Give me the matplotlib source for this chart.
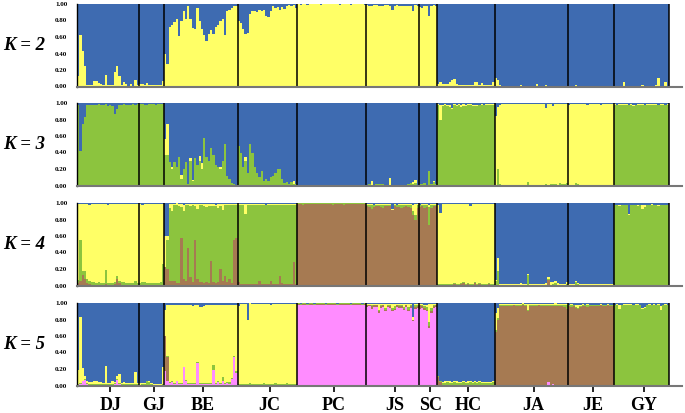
import numpy as np
import matplotlib
matplotlib.use("Agg")
from matplotlib import pyplot as plt

# populations and number of individuals in each
groups = ["DJ", "GJ", "BE", "JC", "PC", "JS", "SC", "HC", "JA", "JE", "GY"]
sizes = [27, 11, 32, 26, 30, 23, 8, 25, 32, 20, 24]

blue = "#3E6BB1"
yellow = "#FFFF66"
green = "#8CC43E"
brown = "#A67A52"
pink = "#FF8CFF"

#K = 2 : yellow from the bottom, blue fills the rest
k2_yellow = (
    [0.13, 0.63, 0.43, 0.25, 0.02, 0.02, 0.02, 0.07, 0.07, 0.04, 0.03, 0.02, 0.14, 0.02,
     0.02, 0.02, 0.17, 0.25, 0.13, 0.02, 0.05, 0.03, 0.01, 0.03, 0.01, 0.08, 0.02]  # DJ
    + [0.03, 0.03, 0.02, 0.04, 0.02, 0.02, 0.02, 0.02, 0.02, 0.02, 0.07]  # GJ
    + [0.40, 0.27, 0.72, 0.75, 0.78, 0.82, 0.61, 0.80, 0.92, 0.82, 0.97, 0.82, 0.71, 0.70,
       0.95, 0.80, 0.70, 0.63, 0.55, 0.64, 0.68, 0.64, 0.72, 0.74, 0.80, 0.82, 0.62, 0.91,
       0.93, 0.95, 0.97, 0.97]  # BE
    + [0.80, 0.77, 0.70, 0.64, 0.65, 0.88, 0.92, 0.91, 0.90, 0.93, 0.91, 0.93, 0.86, 0.84,
       0.91, 0.97, 0.95, 0.96, 0.93, 0.96, 0.94, 0.98, 0.99, 0.97, 0.99, 0.95]  # JC
    + [1.00, 0.99, 1.00, 1.00, 0.99, 1.00, 1.00, 1.00, 1.00, 1.00, 0.99, 1.00, 1.00, 1.00,
       1.00, 1.00, 1.00, 1.00, 0.99, 1.00, 1.00, 1.00, 1.00, 0.99, 1.00, 1.00, 1.00, 1.00,
       1.00, 0.99]  # PC
    + [0.99, 0.97, 0.98, 0.99, 0.99, 0.98, 0.97, 0.98, 0.99, 0.99, 0.98, 0.93, 0.98, 0.99,
       0.97, 0.98, 0.97, 0.98, 0.97, 0.98, 0.91, 0.99, 0.97]  # JS
    + [0.96, 0.95, 0.98, 0.97, 0.85, 0.97, 0.99, 0.98]  # SC
    + [0.03, 0.05, 0.03, 0.03, 0.03, 0.06, 0.08, 0.09, 0.03, 0.02, 0.02, 0.02, 0.02, 0.02,
       0.02, 0.02, 0.06, 0.06, 0.02, 0.04, 0.02, 0.02, 0.02, 0.02, 0.05]  # HC
    + [0.10, 0.08, 0.02, 0.01, 0.01, 0.01, 0.01, 0.01, 0.01, 0.01, 0.01, 0.02, 0.01, 0.01,
       0.01, 0.01, 0.01, 0.01, 0.03, 0.01, 0.01, 0.01, 0.02, 0.01, 0.01, 0.01, 0.01, 0.01,
       0.01, 0.01, 0.01, 0.01]  # JA
    + [0.01, 0.01, 0.01, 0.02, 0.01, 0.01, 0.01, 0.01, 0.01, 0.01, 0.01, 0.01, 0.01, 0.01,
       0.01, 0.01, 0.01, 0.01, 0.01, 0.01]  # JE
    + [0.01, 0.01, 0.01, 0.01, 0.06, 0.01, 0.01, 0.01, 0.01, 0.01, 0.01, 0.01, 0.02, 0.01,
       0.01, 0.01, 0.01, 0.01, 0.02, 0.10, 0.01, 0.01, 0.06, 0.01]  # GY
)

#K = 3 : green, yellow, then blue on top
k3_green = (
    [0.97, 0.42, 0.75, 0.83, 0.97, 0.98, 0.98, 0.97, 0.98, 0.99, 0.97, 0.98, 0.99, 0.96,
     0.97, 0.96, 0.87, 0.93, 0.97, 0.98, 0.99, 0.98, 0.97, 0.98, 0.99, 0.98, 0.99]  # DJ
    + [0.99, 0.99, 0.98, 0.97, 0.99, 0.99, 0.99, 0.98, 0.99, 0.99, 0.99]  # GJ
    + [0.37, 0.37, 0.28, 0.20, 0.28, 0.22, 0.35, 0.08, 0.20, 0.28, 0.02, 0.30, 0.05, 0.33,
       0.25, 0.30, 0.20, 0.58, 0.35, 0.30, 0.45, 0.37, 0.25, 0.22, 0.20, 0.30, 0.50, 0.12,
       0.08, 0.03, 0.02, 0.01]  # BE
    + [0.48, 0.40, 0.22, 0.30, 0.15, 0.50, 0.40, 0.22, 0.15, 0.10, 0.18, 0.06, 0.08, 0.05,
       0.10, 0.12, 0.15, 0.20, 0.20, 0.08, 0.03, 0.04, 0.02, 0.04, 0.02, 0.02]  # JC
    + [0.01, 0, 0, 0, 0, 0, 0, 0.01, 0, 0, 0, 0, 0, 0, 0, 0, 0.01, 0, 0, 0,
       0.01, 0, 0, 0, 0, 0, 0, 0, 0, 0]  # PC
    + [0.01, 0.02, 0.01, 0.01, 0.02, 0.02, 0.02, 0.02, 0.01, 0.01, 0.01, 0.01, 0.01, 0.01,
       0.01, 0.01, 0.01, 0.01, 0.02, 0.03, 0.02, 0.03, 0.01]  # JS
    + [0.02, 0.02, 0.03, 0.01, 0.18, 0.02, 0.04, 0.02]  # SC
    + [0.97, 0.80, 0.96, 0.97, 0.96, 0.95, 0.93, 0.97, 0.96, 0.97, 0.95, 0.96, 0.96, 0.97,
       0.97, 0.96, 0.96, 0.96, 0.97, 0.97, 0.97, 0.98, 0.98, 0.98, 0.97]  # HC
    + [0.01, 0.20, 0.02, 0.01, 0.01, 0.01, 0.01, 0.01, 0.01, 0.01, 0.01, 0.01, 0.01, 0.01,
       0.04, 0.01, 0.01, 0.01, 0.01, 0.01, 0.01, 0.01, 0.02, 0.01, 0.02, 0.02, 0.02, 0.01,
       0.03, 0.02, 0.02, 0.03]  # JA
    + [0.01, 0.01, 0.01, 0.03, 0.02, 0.01, 0.01, 0.01, 0.01, 0.01, 0.01, 0.01, 0.01, 0.01,
       0.01, 0.01, 0.01, 0.01, 0.01, 0.01]  # JE
    + [0.98, 0.97, 0.98, 0.98, 0.97, 0.98, 0.97, 0.98, 0.96, 0.97, 0.98, 0.98, 0.98, 0.97,
       0.98, 0.98, 0.97, 0.98, 0.98, 0.97, 0.98, 0.98, 0.97, 0.98]  # GY
)
k3_yellow = (
    [0] * 27  # DJ
    + [0] * 11  # GJ
    + [0.19, 0.38, 0, 0.02, 0, 0, 0, 0.05, 0, 0, 0, 0.03, 0.02, 0, 0, 0.06, 0.07, 0, 0, 0,
       0, 0, 0, 0, 0.03, 0, 0, 0, 0, 0, 0, 0]  # BE
    + [0, 0, 0, 0.04, 0, 0, 0, 0, 0, 0, 0, 0, 0, 0, 0, 0, 0, 0, 0, 0,
       0, 0, 0, 0, 0.03, 0]  # JC
    + [0] * 30  # PC
    + [0, 0, 0.04, 0, 0, 0, 0, 0, 0, 0, 0.08, 0, 0, 0, 0, 0, 0, 0, 0, 0,
       0.02, 0.04, 0]  # JS
    + [0, 0, 0, 0, 0, 0, 0.02, 0]  # SC
    + [0.02, 0.17, 0.02, 0.02, 0.02, 0.02, 0.01, 0.02, 0.02, 0.02, 0.03, 0.03, 0.02, 0.02,
       0.02, 0.02, 0.02, 0.02, 0.01, 0.02, 0.01, 0.01, 0.01, 0.01, 0.02]  # HC
    + [0.83, 0.75, 0.96, 0.98, 0.98, 0.98, 0.98, 0.98, 0.98, 0.98, 0.98, 0.98, 0.98, 0.98,
       0.95, 0.98, 0.98, 0.98, 0.98, 0.98, 0.98, 0.98, 0.92, 0.98, 0.97, 0.94, 0.97, 0.98,
       0.96, 0.97, 0.97, 0.96]  # JA
    + [0.97, 0.98, 0.98, 0.96, 0.97, 0.98, 0.98, 0.98, 0.97, 0.98, 0.98, 0.98, 0.98, 0.98,
       0.97, 0.98, 0.98, 0.98, 0.98, 0.98]  # JE
    + [0.01, 0.01, 0.01, 0.01, 0.02, 0.01, 0.01, 0.01, 0.02, 0.01, 0.01, 0.01, 0.01, 0.01,
       0.01, 0.01, 0.02, 0.01, 0.01, 0.01, 0.01, 0.01, 0.01, 0.01]  # GY
)

#K = 4 : brown, green, yellow, then blue on top
k4_brown = (
    [0.03, 0.05, 0.13, 0.08, 0.03, 0.02, 0.01, 0.01, 0.01, 0.01, 0.01, 0.01, 0.02, 0.01,
     0.01, 0.01, 0.02, 0.08, 0.03, 0.01, 0.01, 0.01, 0.01, 0.01, 0.01, 0.01, 0.01]  # DJ
    + [0.01, 0.01, 0.01, 0.01, 0.01, 0.01, 0.01, 0.01, 0.01, 0.01, 0.01]  # GJ
    + [0.22, 0.20, 0.06, 0.05, 0.05, 0.03, 0.03, 0.58, 0.08, 0.05, 0.45, 0.10, 0.04, 0.55,
       0.08, 0.04, 0.04, 0.03, 0.04, 0.03, 0.30, 0.04, 0.03, 0.04, 0.20, 0.05, 0.12, 0.04,
       0.08, 0.03, 0.55, 0.57]  # BE
    + [0.04, 0.02, 0.02, 0.02, 0.02, 0.02, 0.02, 0.02, 0.02, 0.06, 0.02, 0.02, 0.02, 0.02,
       0.05, 0.02, 0.02, 0.02, 0.12, 0.03, 0.02, 0.02, 0.02, 0.02, 0.28, 0.02]  # JC
    + [0.99, 0.99, 0.98, 0.99, 0.99, 0.99, 0.99, 0.99, 0.99, 0.99, 0.99, 0.99, 0.99, 0.99,
       0.99, 0.98, 0.99, 0.99, 0.99, 0.99, 0.98, 0.99, 0.99, 0.99, 0.99, 0.99, 0.99, 0.99,
       0.99, 0.99]  # PC
    + [0.96, 0.95, 0.93, 0.95, 0.96, 0.96, 0.95, 0.94, 0.96, 0.96, 0.96, 0.91, 0.96, 0.95,
       0.95, 0.94, 0.95, 0.96, 0.95, 0.94, 0.85, 0.80, 0.94]  # JS
    + [0.95, 0.96, 0.94, 0.95, 0.73, 0.94, 0.96, 0.96]  # SC
    + [0.01, 0.01, 0.01, 0.01, 0.01, 0.01, 0.01, 0.02, 0.01, 0.01, 0.02, 0.03, 0.01, 0.02,
       0.01, 0.01, 0.03, 0.01, 0.02, 0.01, 0.01, 0.01, 0.02, 0.01, 0.01]  # HC
    + [0, 0, 0, 0, 0, 0, 0, 0, 0, 0, 0, 0, 0, 0, 0, 0, 0, 0, 0, 0,
       0, 0, 0, 0.07, 0, 0, 0, 0, 0, 0, 0, 0]  # JA
    + [0] * 20  # JE
    + [0] * 24  # GY
)
k4_green = (
    [0.04, 0.50, 0.05, 0.10, 0.05, 0.04, 0.03, 0.03, 0.02, 0.03, 0.02, 0.02, 0.17, 0.02,
     0.02, 0.02, 0.02, 0.03, 0.02, 0.03, 0.03, 0.02, 0.02, 0.02, 0.02, 0.05, 0.02]  # DJ
    + [0.02, 0.03, 0.03, 0.02, 0.02, 0.02, 0.02, 0.02, 0.02, 0.03, 0.25]  # GJ
    + [0.00, 0.35, 0.88, 0.85, 0.92, 0.94, 0.93, 0.37, 0.82, 0.92, 0.52, 0.86, 0.93, 0.41,
       0.85, 0.93, 0.94, 0.93, 0.91, 0.93, 0.66, 0.92, 0.93, 0.90, 0.76, 0.87, 0.85, 0.93,
       0.89, 0.94, 0.43, 0.41]  # BE
    + [0.94, 0.96, 0.96, 0.85, 0.96, 0.96, 0.95, 0.96, 0.96, 0.92, 0.96, 0.96, 0.95, 0.96,
       0.93, 0.96, 0.96, 0.96, 0.86, 0.95, 0.96, 0.96, 0.96, 0.96, 0.70, 0.96]  # JC
    + [0.01, 0.01, 0.02, 0.01, 0.01, 0.01, 0.01, 0.01, 0.01, 0.01, 0.01, 0.01, 0.01, 0.01,
       0.01, 0.02, 0.01, 0.01, 0.01, 0.01, 0.02, 0.01, 0.01, 0.01, 0.01, 0.01, 0.01, 0.01,
       0.01, 0.01]  # PC
    + [0.02, 0.03, 0.05, 0.02, 0.02, 0.02, 0.02, 0.03, 0.02, 0.02, 0.02, 0.01, 0.02, 0.02,
       0.02, 0.03, 0.02, 0.02, 0.02, 0.03, 0.05, 0.05, 0.03]  # JS
    + [0.02, 0.02, 0.03, 0.02, 0.22, 0.03, 0.02, 0.02]  # SC
    + [0.01, 0.01, 0.01, 0.01, 0.01, 0.01, 0.01, 0.01, 0.01, 0.01, 0.01, 0.01, 0.01, 0.01,
       0.01, 0.01, 0.01, 0.01, 0.01, 0.01, 0.01, 0.01, 0.01, 0.01, 0.01]  # HC
    + [0.05, 0.17, 0.01, 0.01, 0.01, 0.01, 0.01, 0.01, 0.01, 0.01, 0.01, 0.01, 0.01, 0.01,
       0.13, 0.01, 0.01, 0.01, 0.01, 0.01, 0.01, 0.01, 0.01, 0.01, 0.01, 0.02, 0.03, 0.01,
       0.01, 0.01, 0.01, 0.02]  # JA
    + [0.01, 0.01, 0.01, 0.04, 0.02, 0.01, 0.01, 0.01, 0.01, 0.01, 0.01, 0.01, 0.01, 0.01,
       0.01, 0.01, 0.01, 0.01, 0.01, 0.01]  # JE
    + [0.97, 0.97, 0.96, 0.97, 0.97, 0.97, 0.86, 0.97, 0.97, 0.97, 0.96, 0.97, 0.93, 0.95,
       0.97, 0.97, 0.97, 0.97, 0.97, 0.96, 0.97, 0.97, 0.97, 0.97]  # GY
)
k4_yellow = (
    [0.92, 0.44, 0.81, 0.81, 0.91, 0.92, 0.95, 0.95, 0.96, 0.95, 0.96, 0.96, 0.80, 0.95,
     0.96, 0.96, 0.95, 0.88, 0.94, 0.95, 0.95, 0.96, 0.96, 0.96, 0.96, 0.93, 0.96]  # DJ
    + [0.96, 0.93, 0.95, 0.96, 0.96, 0.96, 0.96, 0.96, 0.96, 0.95, 0.73]  # GJ
    + [0.38, 0.05, 0.05, 0.09, 0.02, 0.03, 0.03, 0.04, 0.08, 0.02, 0.02, 0.03, 0.02, 0.03,
       0.06, 0.02, 0.01, 0.03, 0.04, 0.03, 0.03, 0.03, 0.02, 0.05, 0.03, 0.07, 0.02, 0.02,
       0.02, 0.02, 0.01, 0.01]  # BE
    + [0.01, 0.01, 0.01, 0.12, 0.01, 0.01, 0.02, 0.01, 0.01, 0.01, 0.01, 0.01, 0.01, 0.01,
       0.01, 0.01, 0.01, 0.01, 0.01, 0.01, 0.01, 0.01, 0.01, 0.01, 0.01, 0.01]  # JC
    + [0] * 30  # PC
    + [0.01, 0.01, 0.01, 0.01, 0.01, 0.01, 0.02, 0.02, 0.01, 0.01, 0.01, 0.01, 0.01, 0.01,
       0.02, 0.02, 0.02, 0.01, 0.02, 0.02, 0.08, 0.14, 0.02]  # JS
    + [0.01, 0.01, 0.02, 0.02, 0.03, 0.02, 0.01, 0.01]  # SC
    + [0.96, 0.86, 0.97, 0.97, 0.97, 0.97, 0.97, 0.96, 0.97, 0.97, 0.96, 0.95, 0.97, 0.96,
       0.94, 0.97, 0.95, 0.97, 0.96, 0.97, 0.97, 0.97, 0.96, 0.97, 0.97]  # HC
    + [0.02, 0.16, 0.01, 0.01, 0.01, 0.01, 0.01, 0.01, 0.01, 0.01, 0.01, 0.02, 0.01, 0.01,
       0.01, 0.01, 0.01, 0.01, 0.01, 0.01, 0.01, 0.01, 0.02, 0.02, 0.03, 0.02, 0.02, 0.02,
       0.01, 0.01, 0.01, 0.02]  # JA
    + [0.01, 0.01, 0.01, 0.01, 0.01, 0.01, 0.01, 0.01, 0.01, 0.01, 0.01, 0.01, 0.01, 0.01,
       0.01, 0.01, 0.01, 0.01, 0.01, 0.01]  # JE
    + [0.01, 0.01, 0.01, 0.01, 0.01, 0.01, 0.01, 0.01, 0.01, 0.01, 0.01, 0.01, 0.05, 0.03,
       0.01, 0.01, 0.02, 0.01, 0.01, 0.01, 0.01, 0.01, 0.01, 0.01]  # GY
)

#K = 5 : pink, brown, green, yellow, then blue on top
k5_pink = (
    [0.01, 0.02, 0.05, 0.07, 0.02, 0.01, 0.01, 0.01, 0.01, 0.01, 0.01, 0.01, 0.01, 0.01,
     0.01, 0.01, 0.02, 0.07, 0.02, 0.01, 0.01, 0.01, 0.01, 0.01, 0.01, 0.01, 0.01]  # DJ
    + [0, 0.01, 0, 0, 0, 0, 0, 0, 0, 0, 0]  # GJ
    + [0.17, 0.05, 0.03, 0.04, 0.02, 0.05, 0.02, 0.02, 0.22, 0.06, 0.02, 0.02, 0.02, 0.02,
       0.27, 0.02, 0.02, 0.02, 0.02, 0.02, 0.02, 0.19, 0.02, 0.04, 0.02, 0.05, 0.02, 0.03,
       0.02, 0.08, 0.35, 0.15]  # BE
    + [0.01, 0.01, 0.01, 0.01, 0.01, 0.01, 0.01, 0.01, 0.01, 0.01, 0.01, 0.01, 0.01, 0.01,
       0.01, 0.01, 0.01, 0.01, 0.01, 0.01, 0.01, 0.01, 0.01, 0.01, 0.01, 0.01]  # JC
    + [0.98, 0.97, 0.98, 0.98, 0.97, 0.98, 0.98, 0.97, 0.98, 0.98, 0.98, 0.98, 0.97, 0.98,
       0.98, 0.98, 0.98, 0.97, 0.98, 0.98, 0.98, 0.98, 0.98, 0.97, 0.98, 0.98, 0.98, 0.98,
       0.97, 0.98]  # PC
    + [0.95, 0.96, 0.93, 0.95, 0.95, 0.88, 0.94, 0.95, 0.90, 0.95, 0.94, 0.90, 0.91, 0.95,
       0.94, 0.94, 0.91, 0.95, 0.90, 0.94, 0.78, 0.93, 0.94]  # JS
    + [0.93, 0.94, 0.92, 0.90, 0.70, 0.88, 0.94, 0.95]  # SC
    + [0.01, 0.01] + [0] * 23  # HC
    + [0, 0, 0, 0, 0, 0, 0, 0, 0, 0, 0, 0, 0, 0, 0, 0, 0, 0, 0, 0,
       0, 0, 0, 0.04, 0, 0.02, 0, 0, 0, 0, 0, 0]  # JA
    + [0] * 20  # JE
    + [0] * 24  # GY
)
k5_brown = (
    [0] * 27  # DJ
    + [0] * 11  # GJ
    + [0.43, 0.30] + [0] * 30  # BE
    + [0] * 26  # JC
    + [0.01, 0.01, 0.01, 0.01, 0.01, 0.01, 0.01, 0.01, 0.01, 0.01, 0.01, 0.01, 0.01, 0.01,
       0.01, 0.01, 0.01, 0.01, 0.01, 0.01, 0.01, 0.01, 0.01, 0.01, 0.01, 0.01, 0.01, 0.01,
       0.01, 0.01]  # PC
    + [0.02, 0.01, 0.03, 0.02, 0.02, 0.02, 0.02, 0.02, 0.02, 0.01, 0.02, 0.02, 0.02, 0.02,
       0.02, 0.02, 0.02, 0.02, 0.02, 0.02, 0.01, 0.02, 0.02]  # JS
    + [0.04, 0.02, 0.02, 0.02, 0.02, 0.02, 0.02, 0.02]  # SC
    + [0.09, 0.03, 0.01, 0.01, 0.01, 0.01, 0.01, 0.01, 0.01, 0.01, 0.01, 0.01, 0.01, 0.01,
       0.01, 0.01, 0.01, 0.01, 0.01, 0.01, 0.01, 0.01, 0.01, 0.01, 0.01]  # HC
    + [0.65, 0.80, 0.96, 0.96, 0.96, 0.96, 0.96, 0.96, 0.97, 0.96, 0.96, 0.96, 0.97, 0.96,
       0.90, 0.96, 0.96, 0.96, 0.96, 0.97, 0.96, 0.96, 0.96, 0.92, 0.96, 0.94, 0.96, 0.96,
       0.96, 0.96, 0.95, 0.93]  # JA
    + [0.96, 0.95, 0.96, 0.94, 0.93, 0.95, 0.96, 0.96, 0.95, 0.96, 0.96, 0.96, 0.96, 0.96,
       0.97, 0.96, 0.96, 0.97, 0.96, 0.96]  # JE
    + [0, 0, 0, 0, 0, 0.01, 0.01, 0.01, 0.01, 0.01, 0, 0, 0, 0, 0, 0, 0, 0, 0, 0,
       0, 0, 0, 0]  # GY
)
k5_green = (
    [0.01, 0.01, 0.01, 0.01, 0.01, 0.01, 0.01, 0.01, 0.01, 0.01, 0.01, 0.01, 0.01, 0.01,
     0.01, 0.01, 0.01, 0.01, 0.01, 0.01, 0.01, 0.01, 0.01, 0.01, 0.01, 0.01, 0.01]  # DJ
    + [0.01, 0.01, 0.02, 0.05, 0.04, 0.02, 0.01, 0.01, 0.01, 0.01, 0.02]  # GJ
    + [0.00, 0.01, 0.01, 0.01, 0.01, 0.01, 0.01, 0.01, 0.01, 0.01, 0.01, 0.01, 0.01, 0.01,
       0.01, 0.01, 0.01, 0.01, 0.01, 0.01, 0.01, 0.06, 0.01, 0.01, 0.01, 0.05, 0.01, 0.01,
       0.02, 0.01, 0.01, 0.03]  # BE
    + [0.01, 0.01, 0.01, 0.01, 0.01, 0.02, 0.01, 0.01, 0.01, 0.01, 0.01, 0.02, 0.01, 0.01,
       0.01, 0.01, 0.02, 0.01, 0.01, 0.01, 0.01, 0.02, 0.01, 0.01, 0.01, 0.01]  # JC
    + [0.01, 0.01, 0.01, 0.01, 0.01, 0.01, 0.01, 0.01, 0.01, 0.01, 0.01, 0.01, 0.01, 0.01,
       0.01, 0.01, 0.01, 0.01, 0.01, 0.01, 0.01, 0.01, 0.01, 0.01, 0.01, 0.01, 0.01, 0.01,
       0.01, 0.01]  # PC
    + [0.01, 0.01, 0.01, 0.01, 0.01, 0.02, 0.02, 0.01, 0.02, 0.01, 0.02, 0.02, 0.03, 0.01,
       0.02, 0.02, 0.02, 0.01, 0.03, 0.02, 0.01, 0.02, 0.01]  # JS
    + [0.01, 0.01, 0.02, 0.03, 0.05, 0.04, 0.02, 0.01]  # SC
    + [0.01, 0.01, 0.02, 0.02, 0.03, 0.02, 0.02, 0.03, 0.02, 0.02, 0.02, 0.03, 0.02, 0.02,
       0.03, 0.02, 0.03, 0.02, 0.03, 0.02, 0.02, 0.02, 0.02, 0.02, 0.03]  # HC
    + [0.02, 0.02, 0.02, 0.02, 0.01, 0.02, 0.02, 0.02, 0.01, 0.02, 0.02, 0.01, 0.02, 0.02,
       0.02, 0.02, 0.01, 0.02, 0.02, 0.01, 0.02, 0.02, 0.02, 0.02, 0.02, 0.02, 0.02, 0.02,
       0.01, 0.02, 0.02, 0.05]  # JA
    + [0.01, 0.02, 0.01, 0.01, 0.01, 0.01, 0.02, 0.01, 0.02, 0.01, 0.01, 0.01, 0.01, 0.01,
       0.01, 0.01, 0.01, 0.01, 0.01, 0.01]  # JE
    + [0.97, 0.98, 0.93, 0.97, 0.98, 0.97, 0.97, 0.97, 0.96, 0.97, 0.98, 0.97, 0.93, 0.94,
       0.97, 0.98, 0.97, 0.98, 0.97, 0.98, 0.92, 0.97, 0.98, 0.97]  # GY
)
k5_yellow = (
    [0.17, 0.80, 0.15, 0.04, 0.02, 0.02, 0.02, 0.03, 0.03, 0.02, 0.02, 0.01, 0.22, 0.01,
     0.01, 0.04, 0.01, 0.03, 0.11, 0.01, 0.02, 0.01, 0.01, 0.01, 0.01, 0.14, 0.01]  # DJ
    + [0.02, 0.01, 0.01, 0.01, 0.01, 0.01, 0.01, 0.01, 0.01, 0.01, 0.21]  # GJ
    + [0.32, 0.61, 0.94, 0.93, 0.95, 0.92, 0.95, 0.95, 0.75, 0.91, 0.95, 0.94, 0.93, 0.95,
       0.70, 0.92, 0.92, 0.93, 0.94, 0.95, 0.95, 0.73, 0.95, 0.93, 0.95, 0.88, 0.95, 0.94,
       0.94, 0.89, 0.62, 0.80]  # BE
    + [0.94, 0.97, 0.97, 0.97, 0.78, 0.97, 0.97, 0.97, 0.97, 0.97, 0.97, 0.96, 0.97, 0.97,
       0.95, 0.97, 0.96, 0.97, 0.97, 0.97, 0.97, 0.96, 0.97, 0.97, 0.97, 0.97]  # JC
    + [0] * 30  # PC
    + [0.01, 0.01, 0.02, 0.01, 0.01, 0.07, 0.01, 0.01, 0.05, 0.02, 0.01, 0.05, 0.03, 0.01,
       0.01, 0.01, 0.04, 0.01, 0.04, 0.01, 0.03, 0.02, 0.02]  # JS
    + [0.01, 0.02, 0.02, 0.03, 0.22, 0.05, 0.01, 0.01]  # SC
    + [0.01, 0.01, 0.01, 0.02, 0.01, 0.02, 0.01, 0.01, 0.02, 0.01, 0.01, 0.01, 0.01, 0.02,
       0.01, 0.01, 0.01, 0.01, 0.01, 0.01, 0.01, 0.01, 0.01, 0.01, 0.01]  # HC
    + [0.21, 0.12, 0.01, 0.01, 0.02, 0.01, 0.01, 0.01, 0.01, 0.01, 0.01, 0.02, 0.01, 0.01,
       0.07, 0.01, 0.02, 0.01, 0.01, 0.01, 0.01, 0.01, 0.01, 0.01, 0.01, 0.01, 0.02, 0.01,
       0.02, 0.01, 0.02, 0.01]  # JA
    + [0.01, 0.02, 0.01, 0.03, 0.04, 0.02, 0.01, 0.01, 0.02, 0.01, 0.01, 0.01, 0.01, 0.01,
       0.01, 0.01, 0.01, 0.01, 0.01, 0.01]  # JE
    + [0.01, 0.01, 0.05, 0.01, 0.01, 0.01, 0.01, 0.01, 0.01, 0.01, 0.01, 0.01, 0.01, 0.01,
       0.01, 0.01, 0.01, 0.01, 0.01, 0.01, 0.04, 0.01, 0.01, 0.01]  # GY
)

panels = [
    ("K = 2", [(k2_yellow, yellow)]),
    ("K = 3", [(k3_green, green), (k3_yellow, yellow)]),
    ("K = 4", [(k4_brown, brown), (k4_green, green), (k4_yellow, yellow)]),
    ("K = 5", [(k5_pink, pink), (k5_brown, brown), (k5_green, green), (k5_yellow, yellow)]),
]

serif = "Liberation Serif"
W, H = 685.0, 413.0
n = sum(sizes)
edges = np.cumsum([0] + sizes)
centers = (edges[:-1] + edges[1:]) / 2.0
x = np.arange(n)

fig = plt.figure(figsize=(W / 100, H / 100), dpi=100)
panel_tops = [4, 103, 203, 303]
panel_h = 82.5

for i, (label, layers) in enumerate(panels):
    top = panel_tops[i]
    ax = fig.add_axes([77 / W, 1 - (top + panel_h) / H, (682 - 77) / W, panel_h / H])
    bottom = np.zeros(n)
    for vals, col in layers:
        vals = np.asarray(vals, dtype=float)
        assert len(vals) == n, (label, len(vals))
        ax.bar(x, vals, width=1.0, bottom=bottom, align="edge", color=col,
               linewidth=0, antialiased=False)
        bottom = bottom + vals
    # blue takes what is left
    ax.bar(x, np.clip(1 - bottom, 0, None), width=1.0, bottom=bottom, align="edge",
           color=blue, linewidth=0, antialiased=False)

    for e in edges[1:]:
        ax.plot([e, e], [0, 1], color="black", lw=1.1, solid_capstyle="butt")

    ax.set_xlim(0, n + 5.7)
    ax.set_ylim(0, 1)
    ax.spines["top"].set_visible(False)
    ax.spines["right"].set_visible(False)
    ax.spines["left"].set_color("black")
    ax.spines["left"].set_linewidth(1.0)
    ax.spines["bottom"].set_color("#777777")
    ax.spines["bottom"].set_linewidth(1.5)

    ax.set_yticks([0, 0.2, 0.4, 0.6, 0.8, 1.0])
    ax.set_yticklabels(["%.2f" % v for v in [0, 0.2, 0.4, 0.6, 0.8, 1.0]],
                       fontsize=5, fontweight="bold", family=serif)
    ax.tick_params(axis="y", length=0, pad=7)

    if i == len(panels) - 1:
        ax.set_xticks(centers + 1)
        ax.set_xticklabels(groups, fontsize=13, fontweight="bold", family=serif)
        ax.tick_params(axis="x", length=4, width=1.2, color="black", pad=4)
    else:
        ax.set_xticks([])

    fig.text(3 / W, 1 - (top + panel_h / 2) / H, label, fontsize=13.5,
             fontstyle="italic", fontweight="bold", family=serif, va="center", ha="left")

plt.savefig("out.png", dpi=100)
